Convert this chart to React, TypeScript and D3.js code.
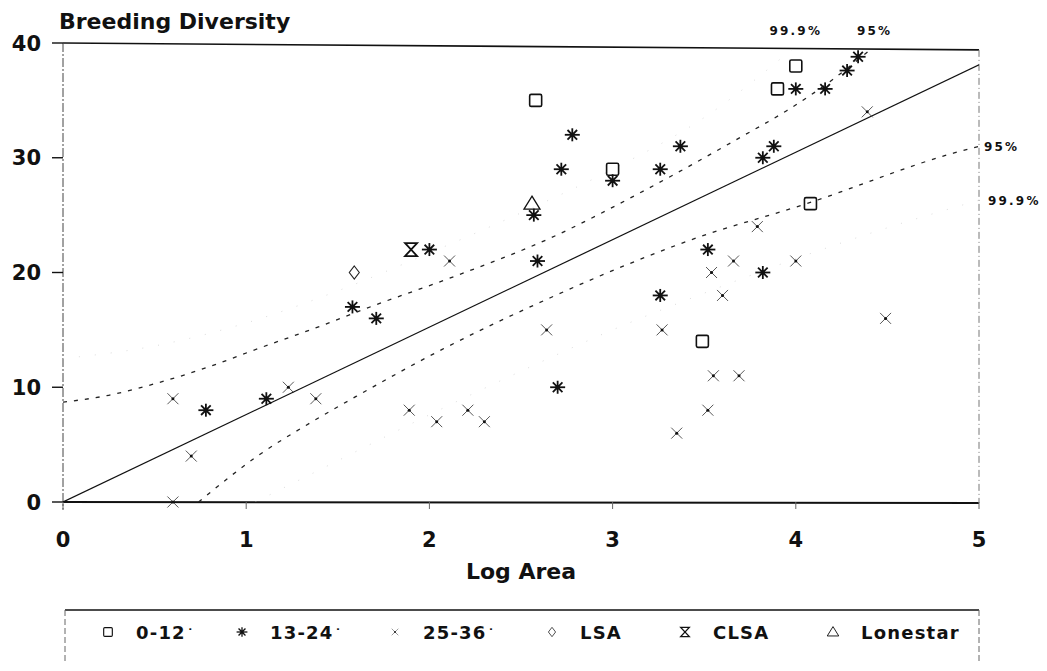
import React from 'react';
import * as d3 from 'd3';

const xTicks = [0, 1, 2, 3, 4, 5];
const yTicks = [0, 10, 20, 30, 40];

// [log area, breeding diversity]
const age0to12 = [[2.58, 35], [3.0, 29], [3.9, 36], [4.0, 38], [4.08, 26], [3.49, 14]];
const age13to24 = [
  [0.78, 8], [1.11, 9], [1.58, 17], [1.71, 16], [2.0, 22], [2.57, 25], [2.59, 21],
  [2.72, 29], [2.78, 32], [3.0, 28], [3.26, 29], [3.37, 31], [2.7, 10], [3.26, 18],
  [3.52, 22], [3.82, 20], [3.82, 30], [3.88, 31], [4.0, 36], [4.16, 36], [4.28, 37.6], [4.34, 38.8],
];
const age25to36 = [
  [0.6, 9], [0.7, 4], [0.6, 0], [1.23, 10], [1.38, 9], [2.11, 21], [1.89, 8], [2.04, 7],
  [2.21, 8], [2.3, 7], [2.64, 15], [3.27, 15], [3.35, 6], [3.52, 8], [3.55, 11], [3.69, 11],
  [3.54, 20], [3.6, 18], [3.66, 21], [3.79, 24], [4.0, 21], [4.49, 16], [4.39, 34],
];
const lsa = [[1.59, 20]];
const clsa = [[1.9, 22]];
const lonestar = [[2.56, 26]];

const fitLine = [[0, 0], [5, 38.1]];
const upper95 = [
  [0, 8.7], [0.25, 9.3], [0.5, 10.3], [0.8, 11.8], [1.07, 13.4], [1.35, 15.0], [1.71, 17.2],
  [2.11, 19.5], [2.66, 23.0], [3.18, 27.2], [3.7, 31.8], [3.95, 34.1], [4.2, 36.8], [4.42, 39.6],
];
const lower95 = [
  [0.74, 0], [1.07, 4.1], [1.35, 6.9], [1.6, 9.2], [2.07, 13.3], [2.66, 17.8], [3.19, 21.4],
  [3.42, 22.8], [4.06, 26.0], [4.86, 30.4], [5, 31.0],
];
const upper999 = [
  [0, 12.5], [0.5, 13.6], [1, 15.6], [1.5, 18.4], [2, 21.7], [2.5, 25.2], [3, 29.0], [3.5, 33.5], [4.02, 40],
];
const lower999 = [
  [1.05, 0], [1.5, 3.6], [2, 7.6], [2.5, 11.4], [3, 15.0], [3.5, 18.2], [4, 21.2], [4.5, 23.9], [5, 26.3],
];

const legendItems = [
  { kind: 'square', label: '0-12', dot: true },
  { kind: 'star', label: '13-24', dot: true },
  { kind: 'cross', label: '25-36', dot: true },
  { kind: 'diamond', label: 'LSA', dot: false },
  { kind: 'hourglass', label: 'CLSA', dot: false },
  { kind: 'triangle', label: 'Lonestar', dot: false },
];
const legendX = [108, 242, 395, 552, 685, 833];

const font = '"DejaVu Sans", Verdana, sans-serif';

function Marker({ kind, cx, cy, s = 1 }: { kind: string; cx: number; cy: number; s?: number }) {
  const t = `translate(${cx},${cy}) scale(${s})`;
  if (kind === 'square') {
    return <rect transform={t} x={-6} y={-6} width={12} height={12} rx={1.5} fill="none" stroke="#111" strokeWidth={1.6} />;
  }
  if (kind === 'star') {
    return (
      <g transform={t} stroke="#111" strokeWidth={1.8}>
        <line x1={-7.5} y1={0} x2={7.5} y2={0} />
        <line x1={0} y1={-6.5} x2={0} y2={6.5} />
        <line x1={-4.8} y1={-4.8} x2={4.8} y2={4.8} />
        <line x1={-4.8} y1={4.8} x2={4.8} y2={-4.8} />
        <circle r={2.4} fill="#111" stroke="none" />
      </g>
    );
  }
  if (kind === 'cross') {
    return (
      <g transform={t} stroke="#444" strokeWidth={0.9}>
        <line x1={-5.5} y1={-5.5} x2={5.5} y2={5.5} />
        <line x1={-5.5} y1={5.5} x2={5.5} y2={-5.5} />
        <circle r={1.5} fill="#111" stroke="none" />
      </g>
    );
  }
  if (kind === 'diamond') {
    return <path transform={t} d="M0,-6.5L5,0L0,6.5L-5,0Z" fill="none" stroke="#222" strokeWidth={1.1} />;
  }
  if (kind === 'hourglass') {
    return <path transform={t} d="M-6,-6.5L6,-6.5L-6,6.5L6,6.5Z" fill="none" stroke="#111" strokeWidth={1.8} />;
  }
  return <path transform={t} d="M0,-7.5L8,5.5L-8,5.5Z" fill="none" stroke="#111" strokeWidth={1.3} />;
}

export default function App() {
  const x = d3.scaleLinear().domain([0, 5]).range([63, 979]);
  const y = d3.scaleLinear().domain([0, 40]).range([502, 43]);
  const line = d3
    .line<number[]>()
    .x((d) => x(d[0]))
    .y((d) => y(d[1]))
    .curve(d3.curveMonotoneX);

  const [x0, x1] = x.range();
  const [yb, yt] = y.range();

  const series = [
    { kind: 'cross', data: age25to36 },
    { kind: 'square', data: age0to12 },
    { kind: 'star', data: age13to24 },
    { kind: 'diamond', data: lsa },
    { kind: 'hourglass', data: clsa },
    { kind: 'triangle', data: lonestar },
  ];

  return (
    <svg
      width={1047}
      height={671}
      style={{ position: 'absolute', left: 0, top: 0, background: '#fff' }}
      fontFamily={font}
    >
      <defs>
        <clipPath id="plot">
          <rect x={x0} y={yt} width={x1 - x0} height={yb - yt} />
        </clipPath>
      </defs>

      {/* title */}
      <text x={59} y={29} fontSize={22} fontWeight={700} fill="#111">
        Breeding Diversity
      </text>

      {/* frame */}
      <line x1={x0} y1={yt} x2={x1} y2={y(39.4)} stroke="#111" strokeWidth={1.6} />
      <line x1={x0} y1={yb} x2={x1} y2={yb + 1} stroke="#111" strokeWidth={2} />
      <line x1={x0} y1={yt} x2={x0} y2={yb + 8} stroke="#444" strokeWidth={1} strokeDasharray="9 2 2 2" />
      <line x1={x1} y1={y(39.4)} x2={x1} y2={yb + 1} stroke="#777" strokeWidth={1} strokeDasharray="7 3 1 3" />

      {/* y axis */}
      {yTicks.map((t) => (
        <g key={`y${t}`}>
          <line x1={x0 - 11} y1={y(t)} x2={x0} y2={y(t)} stroke="#111" strokeWidth={1.4} />
          <text x={41} y={y(t)} dy="0.36em" textAnchor="end" fontSize={21} fontWeight={700} fill="#111">
            {t}
          </text>
        </g>
      ))}

      {/* x axis */}
      {xTicks.map((t) => (
        <g key={`x${t}`}>
          <line x1={x(t)} y1={yb} x2={x(t)} y2={yb + 7} stroke="#666" strokeWidth={1} />
          <text x={x(t)} y={539} dy="0.36em" textAnchor="middle" fontSize={21} fontWeight={700} fill="#111">
            {t}
          </text>
        </g>
      ))}
      <text x={521} y={571} dy="0.36em" textAnchor="middle" fontSize={22} fontWeight={700} fill="#111">
        Log Area
      </text>

      {/* fit and bands */}
      <g clipPath="url(#plot)" fill="none">
        <path d={line(fitLine) || ''} stroke="#111" strokeWidth={1.2} />
        <path d={line(upper95) || ''} stroke="#222" strokeWidth={1.3} strokeDasharray="4 7" />
        <path d={line(lower95) || ''} stroke="#222" strokeWidth={1.3} strokeDasharray="4 7" />
        <path d={line(upper999) || ''} stroke="#ccc" strokeWidth={0.7} strokeDasharray="1 15" />
        <path d={line(lower999) || ''} stroke="#ccc" strokeWidth={0.7} strokeDasharray="1 15" />
      </g>

      {/* band labels */}
      <g fontSize={12} fontWeight={700} fill="#111" letterSpacing={2.2}>
        <text x={x(4.0)} y={31} dy="0.36em" textAnchor="middle">99.9%</text>
        <text x={x(4.43)} y={31} dy="0.36em" textAnchor="middle">95%</text>
        <text x={x1 + 5} y={y(31.0)} dy="0.36em">95%</text>
        <text x={x1 + 9} y={y(26.3)} dy="0.36em">99.9%</text>
      </g>

      {/* points */}
      {series.map((sr) =>
        sr.data.map((d, i) => <Marker key={`${sr.kind}${i}`} kind={sr.kind} cx={x(d[0])} cy={y(d[1])} />)
      )}

      {/* legend */}
      <g>
        <line x1={65} y1={610} x2={x1} y2={610} stroke="#111" strokeWidth={1.4} />
        <line x1={65} y1={610} x2={65} y2={662} stroke="#666" strokeWidth={1} strokeDasharray="6 3" />
        <line x1={x1} y1={610} x2={x1} y2={662} stroke="#666" strokeWidth={1} strokeDasharray="6 3" />
        {legendItems.map((it, i) => (
          <g key={it.label}>
            <Marker kind={it.kind} cx={legendX[i]} cy={632} s={it.kind === 'cross' ? 0.6 : 0.72} />
            <text x={legendX[i] + 28} y={633} dy="0.36em" fontSize={18} fontWeight={700} fill="#111" letterSpacing={1.2}>
              {it.label}
              {it.dot ? <tspan dx={1} fontSize={14}>˙</tspan> : null}
            </text>
          </g>
        ))}
      </g>
    </svg>
  );
}
